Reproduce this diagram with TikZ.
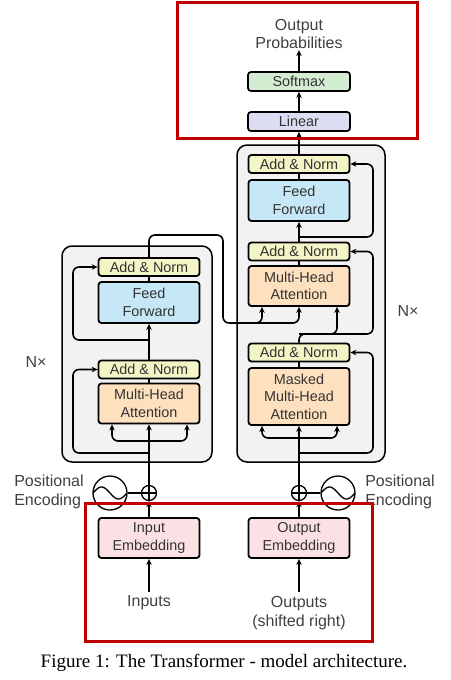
\documentclass[tikz,border=0pt]{standalone}
\usepackage{fontspec}
\setmainfont{Liberation Sans}
\newfontfamily\captionfont{Liberation Serif}
\usetikzlibrary{arrows.meta}

\definecolor{normcol}{HTML}{F3F5C6}
\definecolor{ffcol}{HTML}{C6E7F6}
\definecolor{attcol}{HTML}{FDE0BE}
\definecolor{softcol}{HTML}{D4EDD2}
\definecolor{lincol}{HTML}{DCDDF2}
\definecolor{embcol}{HTML}{FCE1E4}
\definecolor{stackcol}{HTML}{F2F2F2}
\definecolor{framecol}{HTML}{C00000}

\tikzset{
  block/.style={draw, line width=1.8pt, rounded corners=3pt, minimum width=101pt,
    inner sep=0pt, align=center, text=black!80, font=\fontsize{14.4}{17.5}\selectfont},
  addnorm/.style={block, fill=normcol, minimum height=18pt},
  ffbox/.style={block, fill=ffcol, minimum height=41pt},
  attbox/.style={block, fill=attcol, minimum height=40pt},
  maskbox/.style={block, fill=attcol, minimum height=57pt},
  embbox/.style={block, fill=embcol, minimum height=40pt},
  headbox/.style={block, minimum width=102pt, minimum height=19pt},
  txt/.style={align=center, text=black!75, font=\fontsize{16}{19.5}\selectfont},
  stack/.style={draw, line width=1.5pt, rounded corners=10pt, fill=stackcol},
  wire/.style={line width=1.6pt},
  link/.style={line width=1.6pt, rounded corners=6pt},
  flow/.style={-{Stealth[length=6pt,width=5.5pt]}, line width=1.6pt},
  plusnode/.style={circle, draw, line width=1.3pt, minimum size=15pt, inner sep=0pt, fill=white,
    path picture={\draw[line width=1.3pt] (path picture bounding box.north) -- (path picture bounding box.south)
      (path picture bounding box.west) -- (path picture bounding box.east);}},
  wavenode/.style={circle, draw, line width=1.3pt, minimum size=34pt, inner sep=0pt, fill=white,
    path picture={\draw[line width=1.3pt, shift={(path picture bounding box.center)}]
      plot[domain=-1:1, samples=40, smooth] ({\x*17pt},{-6pt*sin(\x*180)});}},
  redframe/.style={draw=framecol, line width=3pt},
}

\begin{document}
\begin{tikzpicture}[x=1pt, y=-1pt]
    \useasboundingbox (0,0) rectangle (450,680);

    % Draw the two stacks
        \draw[stack] (62,246) rectangle (212,462);
        \draw[stack] (237,145) rectangle (385,462);

    % Draw the encoder blocks
        \node[addnorm] (encnorma) at (149,267) {Add \& Norm};
        \node[ffbox] (encff) at (149,302.5) {Feed\\Forward};
        \node[addnorm] (encnormb) at (149,369.5) {Add \& Norm};
        \node[attbox] (encatt) at (149,403.5) {Multi-Head\\Attention};
        \node[plusnode] (inplus) at (149,493) {};
        \node[wavenode] (inwave) at (110,493) {};
        \node[txt, align=left] (inpos) at (49,492) {Positional\\Encoding};
        \node[embbox] (inemb) at (149,538) {Input\\Embedding};
        \node[txt] (inputs) at (149,603) {Inputs};
        \node[txt] (encrep) at (36,362) {N×};

    % Draw the decoder blocks
        \node[addnorm] (decnorma) at (299,164) {Add \& Norm};
        \node[ffbox] (decff) at (299,200.5) {Feed\\Forward};
        \node[addnorm] (decnormb) at (299,251.5) {Add \& Norm};
        \node[attbox] (decatt) at (299,286) {Multi-Head\\Attention};
        \node[addnorm] (decnormc) at (299,352.5) {Add \& Norm};
        \node[maskbox] (decmask) at (299,396.5) {Masked\\Multi-Head\\Attention};
        \node[plusnode] (outplus) at (299,493) {};
        \node[wavenode] (outwave) at (338,493) {};
        \node[txt, align=left] (outpos) at (400,492) {Positional\\Encoding};
        \node[embbox] (outemb) at (299,538) {Output\\Embedding};
        \node[txt] (outputs) at (299,613) {Outputs\\(shifted right)};
        \node[txt] (decrep) at (408,311) {N×};

    % Draw the output head
        \node[headbox, fill=lincol] (linear) at (299,121.5) {Linear};
        \node[headbox, fill=softcol] (softmax) at (299,81.5) {Softmax};
        \node[txt, font=\fontsize{16}{18.5}\selectfont, inner sep=1pt] (probs) at (299,34) {Output\\Probabilities};

    % Encoder connections
        \draw[flow] (inputs.north) -- (inemb.south);
        \draw[flow] (inemb.north) -- (inplus.south);
        \draw[wire] (inwave.east) -- (inplus.west);
        \draw[flow] (inplus.north) -- (encatt.south);
        \draw[flow, link] (149,441) -| ([xshift=-37pt]encatt.south);
        \draw[flow, link] (149,441) -| ([xshift=38pt]encatt.south);
        \draw[flow, link] (149,453) -| (73,369.5) -- (encnormb.west);
        \draw[wire] (encatt.north) -- (encnormb.south);
        \draw[flow] (encnormb.north) -- (encff.south);
        \draw[flow, link] (149,340) -| (73,267) -- (encnorma.west);
        \draw[wire] (encff.north) -- (encnorma.south);

    % Encoder output into the decoder
        \draw[flow, link] (encnorma.north) |- (223,235) |- (240,323) -| (decatt.south);
        \draw[flow, link] (245,323) -| ([xshift=-37pt]decatt.south);

    % Decoder connections
        \draw[flow] (outputs.north) -- (outemb.south);
        \draw[flow] (outemb.north) -- (outplus.south);
        \draw[wire] (outwave.west) -- (outplus.east);
        \draw[flow] (outplus.north) -- (decmask.south);
        \draw[flow, link] (299,438) -| ([xshift=-37pt]decmask.south);
        \draw[flow, link] (299,438) -| ([xshift=38pt]decmask.south);
        \draw[flow, link] (299,453) -| (373,352.5) -- (decnormc.east);
        \draw[wire] (decmask.north) -- (decnormc.south);
        \draw[flow, link] (decnormc.north) |- (320,334) -| ([xshift=38pt]decatt.south);
        \draw[flow, link] (299,334) -| (373,251.5) -- (decnormb.east);
        \draw[wire] (decatt.north) -- (decnormb.south);
        \draw[flow] (decnormb.north) -- (decff.south);
        \draw[flow, link] (299,237) -| (373,164) -- (decnorma.east);
        \draw[wire] (decff.north) -- (decnorma.south);
        \draw[flow] (decnorma.north) -- (linear.south);
        \draw[flow] (linear.north) -- (softmax.south);
        \draw[flow] (softmax.north) -- (probs.south);

    % Draw the red frames
        \draw[redframe] (177,2.5) rectangle (417,138);
        \draw[redframe] (85,503) rectangle (372,641);

    % Caption
        \node[font=\captionfont\fontsize{19}{22}\selectfont] (caption) at (224,663)
            {Figure 1: The Transformer - model architecture.};
\end{tikzpicture}
\end{document}
